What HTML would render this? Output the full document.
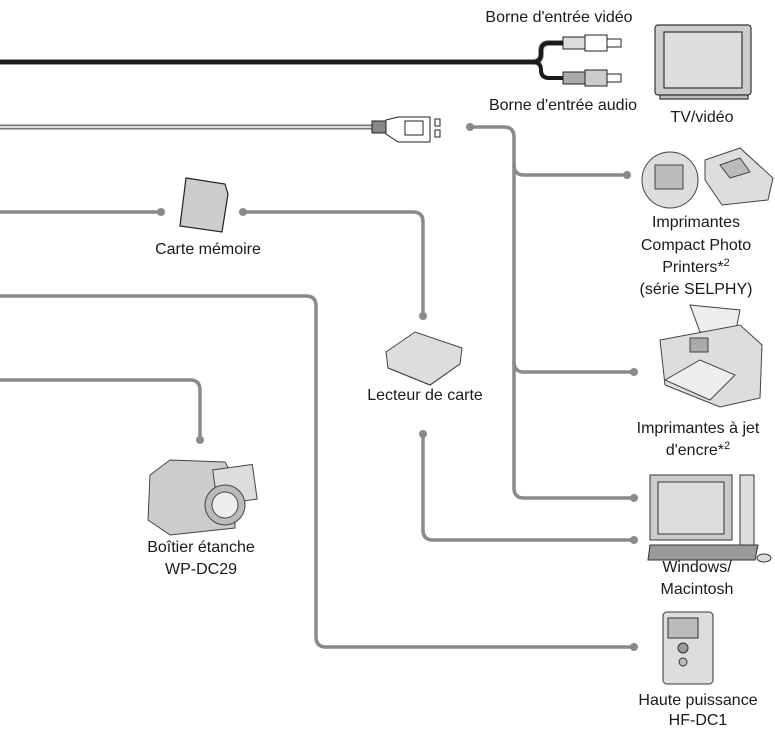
<!DOCTYPE html>
<html><head><meta charset="utf-8"><style>
html,body{margin:0;padding:0;background:#fff}
svg{display:block}
text{font-family:"Liberation Sans",sans-serif;font-size:16px;fill:#1a1a1a;text-anchor:middle}
</style></head><body>
<svg width="775" height="729" viewBox="0 0 775 729" xmlns="http://www.w3.org/2000/svg">
<g fill="none" stroke-linecap="round" stroke-linejoin="round">
<path d="M0 62 H533 Q541 62 541 54 V51 Q541 43 549 43 H565" stroke="#999" stroke-width="6"/>
<path d="M0 62 H533 Q541 62 541 54 V51 Q541 43 549 43 H565" stroke="#1a1a1a" stroke-width="4"/>
<path d="M533 62 Q541 62 541 70 V70 Q541 78 549 78 H565" stroke="#1a1a1a" stroke-width="4"/>
<path d="M0 127 H372" stroke="#777" stroke-width="5"/>
<path d="M0 127 H372" stroke="#fff" stroke-width="1.5"/>
<g stroke="#8a8a8a" stroke-width="3.5">
<path d="M470 127 H504 Q514 127 514 137 V488 Q514 498 524 498 H634"/>
<path d="M514 165 Q514 175 524 175 H627"/>
<path d="M514 362 Q514 372 524 372 H634"/>
<path d="M0 212 H161"/>
<path d="M243 212 H413 Q423 212 423 222 V316"/>
<path d="M0 296 H306 Q316 296 316 306 V637 Q316 647 326 647 H634"/>
<path d="M0 380 H190 Q200 380 200 390 V440"/>
<path d="M423 434 V530 Q423 540 433 540 H634"/>
</g>
</g>
<g fill="#8a8a8a">
<circle cx="161" cy="212" r="4"/><circle cx="243" cy="212" r="4"/>
<circle cx="470" cy="127" r="4"/><circle cx="627" cy="175" r="4"/>
<circle cx="634" cy="372" r="4"/><circle cx="634" cy="498" r="4"/>
<circle cx="423" cy="316" r="4"/><circle cx="423" cy="434" r="4"/>
<circle cx="634" cy="540" r="4"/><circle cx="634" cy="647" r="4"/>
<circle cx="200" cy="440" r="4"/>
</g>
<g stroke="#222" stroke-width="1">
<rect x="563" y="37" width="22" height="12" fill="#ddd"/><rect x="585" y="35" width="22" height="16" fill="#fff"/><rect x="607" y="39" width="14" height="8" fill="#fff"/>
<rect x="563" y="72" width="22" height="12" fill="#aaa"/><rect x="585" y="70" width="22" height="16" fill="#ccc"/><rect x="607" y="74" width="14" height="8" fill="#fff"/>
</g>
<g stroke="#222" stroke-width="1">
<rect x="372" y="121" width="14" height="12" fill="#888"/>
<path d="M386 120 L398 117 H430 V142 H398 L386 134 Z" fill="#fff"/>
<rect x="405" y="121" width="18" height="14" fill="#fff"/>
<rect x="435" y="119" width="5" height="7" fill="#fff"/><rect x="435" y="130" width="5" height="7" fill="#fff"/>
</g>
<g stroke="#333" stroke-width="1.2">
<rect x="655" y="25" width="96" height="70" rx="3" fill="#ccc"/>
<rect x="664" y="32" width="78" height="56" fill="#ddd"/>
<rect x="660" y="95" width="88" height="4" fill="#bbb"/>
</g>
<path d="M186 178 L225 184 L228 194 L222 232 L180 226 Z" fill="#ccc" stroke="#222" stroke-width="1.2"/>
<g stroke="#444" stroke-width="1">
<ellipse cx="670" cy="180" rx="28" ry="28" fill="#ddd"/>
<rect x="655" y="165" width="28" height="24" fill="#bbb"/>
<path d="M705 160 L740 148 L773 178 L768 200 L722 205 L705 180 Z" fill="#ddd"/>
<path d="M720 165 L740 158 L750 172 L730 178 Z" fill="#bbb"/>
</g>
<g stroke="#444" stroke-width="1">
<path d="M690 305 L740 310 L735 335 L700 332 Z" fill="#eee"/>
<path d="M660 340 L740 325 L762 345 L760 398 L720 407 L665 385 Z" fill="#ddd"/>
<path d="M665 380 L700 360 L735 375 L710 400 Z" fill="#eee"/>
<rect x="690" y="338" width="18" height="14" fill="#aaa"/>
</g>
<g stroke="#444" stroke-width="1">
<path d="M386 352 L415 332 L462 348 L460 364 L430 385 L388 368 Z" fill="#ddd"/>
<path d="M388 368 L430 385 L460 364" fill="none"/>
</g>
<g stroke="#444" stroke-width="1">
<path d="M150 475 L170 460 L225 462 L235 480 L235 528 L170 535 L148 520 Z" fill="#ccc"/>
<rect x="215" y="467" width="40" height="35" fill="#ddd" transform="rotate(-8 235 485)"/>
<circle cx="225" cy="505" r="20" fill="#bbb"/><circle cx="225" cy="505" r="13" fill="#eee"/>
</g>
<g stroke="#333" stroke-width="1">
<rect x="650" y="475" width="82" height="65" fill="#ccc"/>
<rect x="658" y="482" width="66" height="52" fill="#ddd"/>
<rect x="740" y="475" width="14" height="70" fill="#ddd"/>
<path d="M650 545 L758 545 L755 560 L648 560 Z" fill="#999"/>
<ellipse cx="764" cy="558" rx="7" ry="4" fill="#ddd"/>
</g>
<g stroke="#333" stroke-width="1">
<rect x="663" y="612" width="50" height="72" rx="4" fill="#ddd"/>
<rect x="668" y="618" width="30" height="20" fill="#bbb"/>
<circle cx="683" cy="648" r="5" fill="#999"/><circle cx="683" cy="662" r="4" fill="#bbb"/>
</g>
<text x="559" y="22">Borne d'entrée vidéo</text>
<text x="563" y="110">Borne d'entrée audio</text>
<text x="702" y="122">TV/vidéo</text>
<text x="208" y="254">Carte mémoire</text>
<text x="696" y="227">Imprimantes</text>
<text x="696" y="250">Compact Photo</text>
<text x="696" y="272">Printers*<tspan dy="-6" font-size="11">2</tspan></text>
<text x="696" y="294">(série SELPHY)</text>
<text x="425" y="400">Lecteur de carte</text>
<text x="698" y="433">Imprimantes à jet</text>
<text x="698" y="455">d'encre*<tspan dy="-6" font-size="11">2</tspan></text>
<text x="201" y="552">Boîtier étanche</text>
<text x="201" y="574">WP-DC29</text>
<text x="697" y="572">Windows/</text>
<text x="697" y="594">Macintosh</text>
<text x="698" y="705">Haute puissance</text>
<text x="698" y="725">HF-DC1</text>
</svg>
</body></html>
